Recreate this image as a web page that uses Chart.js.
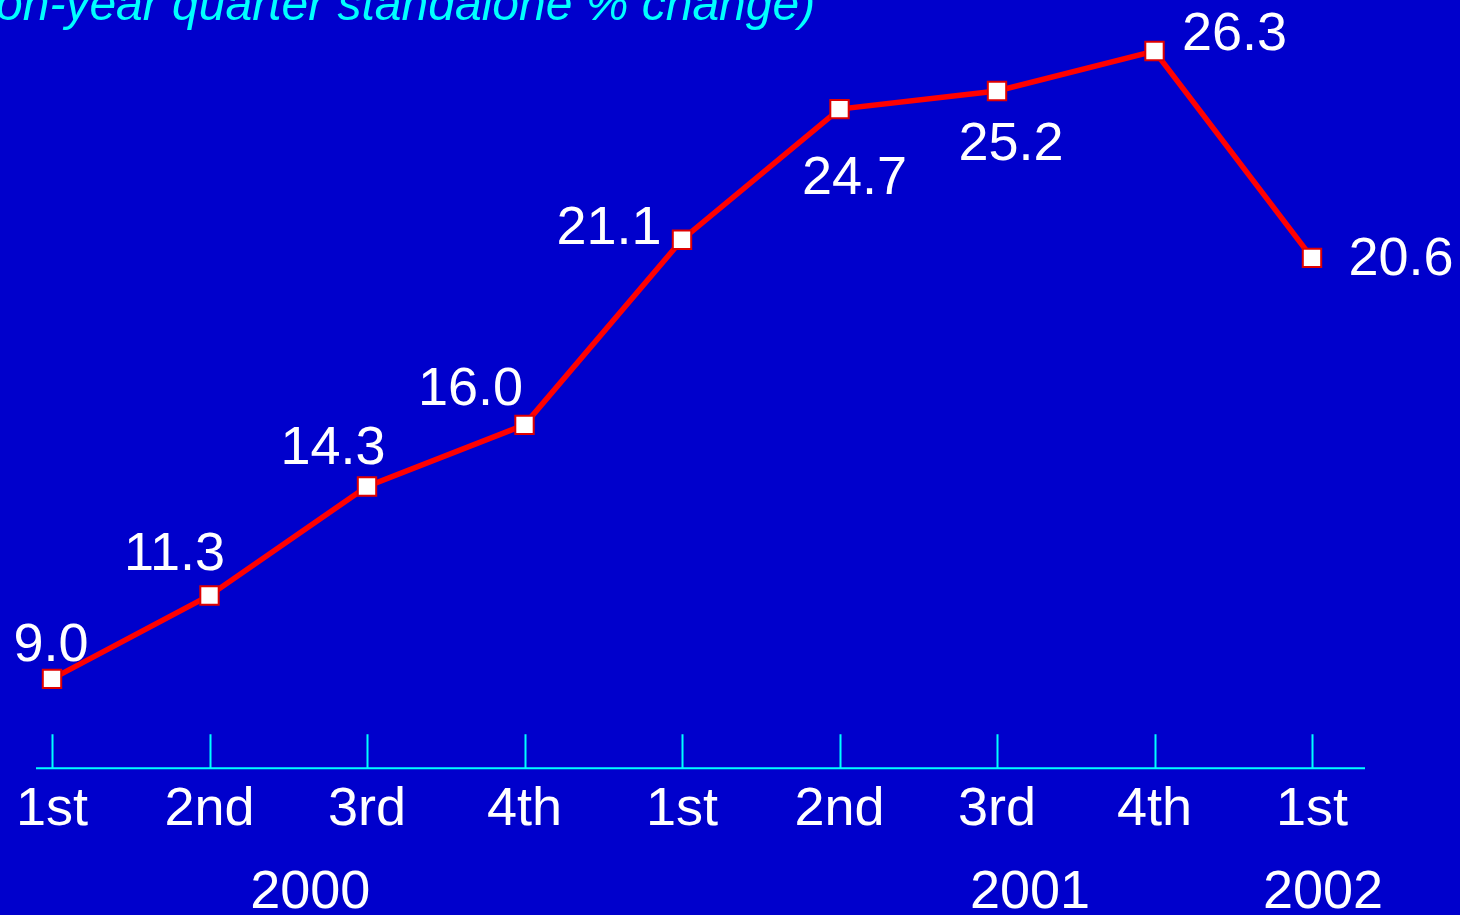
<!DOCTYPE html>
<html lang="en">
<head>
  <meta charset="UTF-8" />
  <title>Quarterly growth</title>
  <script src="https://cdn.jsdelivr.net/npm/chart.js"></script>
  <style>
    html, body {
      margin: 0;
      padding: 0;
      background: #0000CC;
      overflow: hidden;
    }
    .wrap {
      position: relative;
      width: 1460px;
      height: 915px;
    }
  </style>
</head>
<body>
  <div class="wrap"><canvas id="growthChart" width="1460" height="915"></canvas></div>

  <script>
    // data
    const quarters = ['1st', '2nd', '3rd', '4th', '1st', '2nd', '3rd', '4th', '1st'];
    const growth = [9.0, 11.3, 14.3, 16.0, 21.1, 24.7, 25.2, 26.3, 20.6];
    const years = ['2000', '2001', '2002'];
    const titleText = 'on-year quarter standalone % change)';

    // where things sit (layout only)
    const yearAt = [1.64, 6.21, 8.07];
    const labelShift = [[-1, -18], [-35, -25], [-34, -23], [-54, -20], [-73, 4], [15, 85], [14, 69], [80, -1], [89, 17]];

    const FONT = '"Liberation Sans", Arial, sans-serif';
    const CYAN = '#00FFFF';

    const slideBits = {
      id: 'slideBits',
      beforeDraw(chart) {
        const ctx = chart.ctx;
        ctx.save();
        ctx.fillStyle = '#0000CC';
        ctx.fillRect(0, 0, chart.width, chart.height);
        ctx.restore();
      },
      afterDatasetsDraw(chart) {
        const ctx = chart.ctx;
        const xs = chart.scales.x;
        const bottom = chart.chartArea.bottom;
        ctx.save();

        // axis line + upward ticks
        ctx.strokeStyle = CYAN;
        ctx.lineWidth = 2;
        ctx.beginPath();
        ctx.moveTo(36, bottom);
        ctx.lineTo(1365, bottom);
        quarters.forEach((q, i) => {
          const x = Math.round(xs.getPixelForValue(i)) + 0.5;
          ctx.moveTo(x, bottom);
          ctx.lineTo(x, bottom - 34);
        });
        ctx.stroke();

        // value labels
        ctx.fillStyle = '#FFFFFF';
        ctx.font = '54px ' + FONT;
        ctx.textAlign = 'center';
        ctx.textBaseline = 'alphabetic';
        const meta = chart.getDatasetMeta(0);
        meta.data.forEach((pt, i) => {
          const s = labelShift[i];
          ctx.fillText(growth[i].toFixed(1), pt.x + s[0], pt.y + s[1]);
        });

        // year labels
        years.forEach((y, i) => {
          ctx.fillText(y, xs.getPixelForValue(yearAt[i]), 908);
        });

        // title, cut off by the top edge as on the slide
        ctx.fillStyle = CYAN;
        ctx.font = 'italic 48px ' + FONT;
        ctx.textAlign = 'left';
        ctx.fillText(titleText, -4, 20);

        ctx.restore();
      }
    };

    new Chart(document.getElementById('growthChart'), {
      type: 'line',
      data: {
        labels: quarters,
        datasets: [{
          data: growth,
          borderColor: '#FF0000',
          borderWidth: 5.5,
          pointStyle: 'rect',
          pointRadius: 13,
          pointBorderWidth: 2,
          pointBorderColor: '#E00000',
          pointBackgroundColor: '#FFFFFF',
          tension: 0,
          clip: false
        }]
      },
      options: {
        responsive: false,
        animation: false,
        events: [],
        layout: { autoPadding: false, padding: { top: 10, bottom: 70, left: 52, right: 148 } },
        plugins: {
          legend: { display: false },
          tooltip: { enabled: false }
        },
        scales: {
          x: {
            offset: false,
            grid: { display: false },
            border: { display: false },
            ticks: {
              color: '#FFFFFF',
              font: { size: 54, family: FONT },
              padding: 2,
              maxRotation: 0,
              autoSkip: false
            }
          },
          y: {
            display: false,
            min: 6.54,
            max: 27.43
          }
        }
      },
      plugins: [slideBits]
    });
  </script>
</body>
</html>
